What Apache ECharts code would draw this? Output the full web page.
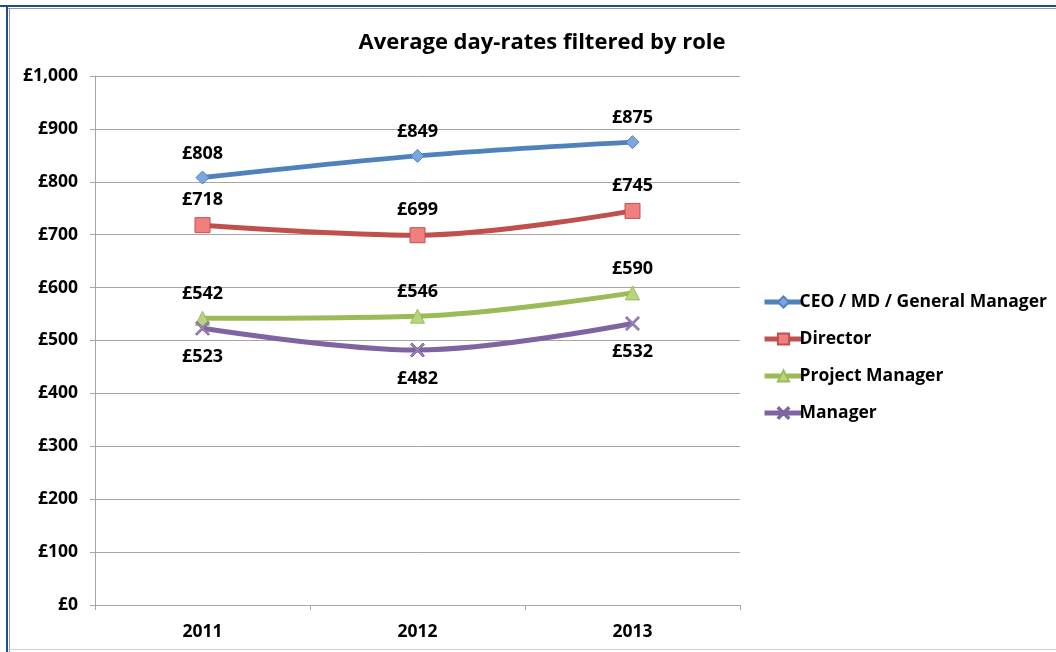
<!DOCTYPE html>
<html>
<head>
<meta charset="utf-8">
<script src="https://cdn.jsdelivr.net/npm/echarts@6/dist/echarts.min.js"></script>
<style>
  html, body { margin: 0; padding: 0; background: #fff; }
  #chart { width: 1056px; height: 652px; }
</style>
</head>
<body>
<div id="chart"></div>
<script>
// Years on the category axis
const years = ['2011', '2012', '2013'];

// Average day-rates (GBP) by role
const ceoRates = [808, 849, 875];
const directorRates = [718, 699, 745];
const projectManagerRates = [542, 546, 590];
const managerRates = [523, 482, 532];

// Value axis ticks
const yMin = 0;
const yMax = 1000;
const yStep = 100;

const FONT = '"Open Sans", "Liberation Sans", sans-serif';
const crossSymbol = 'path://M1,0 L5,4 L9,0 L10,1 L6,5 L10,9 L9,10 L5,6 L1,10 L0,9 L4,5 L0,1 Z';

function money(v) {
  return '£' + v.toLocaleString('en-GB');
}

function makeSeries(name, data, color, fill, symbol, size, labelPos) {
  return {
    name: name,
    type: 'line',
    data: data,
    smooth: 0.35,
    symbol: symbol,
    symbolSize: size,
    showAllSymbol: true,
    lineStyle: { color: color, width: 5 },
    itemStyle: { color: fill, borderColor: color, borderWidth: 1 },
    label: {
      show: true,
      position: labelPos,
      distance: labelPos === 'top' ? 8 : 12,
      formatter: p => money(p.value),
      fontFamily: FONT,
      fontWeight: 'bold',
      fontSize: 18,
      color: '#000'
    },
    emphasis: { disabled: true }
  };
}

const chart = echarts.init(document.getElementById('chart'));
chart.setOption({
  animation: false,
  backgroundColor: '#fff',
  title: {
    text: 'Average day-rates filtered by role',
    left: 537,
    top: 27,
    textAlign: 'center',
    textStyle: { fontFamily: FONT, fontWeight: 'bold', fontSize: 22, color: '#000' }
  },
  legend: {
    orient: 'vertical',
    left: 757,
    top: 285,
    itemGap: 13,
    itemWidth: 38,
    itemHeight: 14,
    lineStyle: { width: 5 },
    textStyle: {
      fontFamily: FONT, fontWeight: 'bold', fontSize: 17.5, color: '#000',
      lineHeight: 24, padding: [0, 0, 0, -8]
    },
    data: ['CEO / MD / General Manager', 'Director', 'Project Manager', 'Manager']
  },
  grid: { left: 95, right: 316, top: 76, bottom: 47, containLabel: false },
  xAxis: {
    type: 'category',
    data: years,
    boundaryGap: true,
    axisLine: { lineStyle: { color: '#a6a6a6', width: 1 } },
    axisTick: { show: true, length: 5, lineStyle: { color: '#a6a6a6' } },
    axisLabel: { fontFamily: FONT, fontWeight: 'bold', fontSize: 17.5, color: '#000', margin: 18 }
  },
  yAxis: {
    type: 'value',
    min: yMin,
    max: yMax,
    interval: yStep,
    axisLine: { show: true, lineStyle: { color: '#a6a6a6' } },
    axisTick: { show: true, length: 5, lineStyle: { color: '#a6a6a6' } },
    splitLine: { lineStyle: { color: '#a6a6a6', width: 1 } },
    axisLabel: {
      fontFamily: FONT, fontWeight: 'bold', fontSize: 17.5, color: '#000', margin: 17,
      formatter: v => money(v)
    }
  },
  graphic: [
    // outer frame: dark blue rule at top and left, grey inner rule
    { type: 'rect', shape: { x: 0, y: 5, width: 1056, height: 2 }, style: { fill: '#1f4e8c' }, silent: true },
    { type: 'rect', shape: { x: 8, y: 8, width: 1048, height: 1 }, style: { fill: '#9a9a9a' }, silent: true },
    { type: 'rect', shape: { x: 6, y: 5, width: 2, height: 647 }, style: { fill: '#1f4e8c' }, silent: true },
    { type: 'rect', shape: { x: 9, y: 8, width: 1, height: 644 }, style: { fill: '#9a9a9a' }, silent: true },
    { type: 'rect', shape: { x: 8, y: 649, width: 1048, height: 1 }, style: { fill: '#d0d0d0' }, silent: true }
  ],
  series: [
    makeSeries('CEO / MD / General Manager', ceoRates, '#4f81bd', '#7aa7e0', 'diamond', 13, 'top'),
    makeSeries('Director', directorRates, '#c0504d', '#f08080', 'rect', 15, 'top'),
    makeSeries('Project Manager', projectManagerRates, '#9bbb59', '#b5d67a', 'triangle', 14, 'top'),
    makeSeries('Manager', managerRates, '#8064a2', '#9b86b8', crossSymbol, 14, 'bottom')
  ]
});
</script>
</body>
</html>
